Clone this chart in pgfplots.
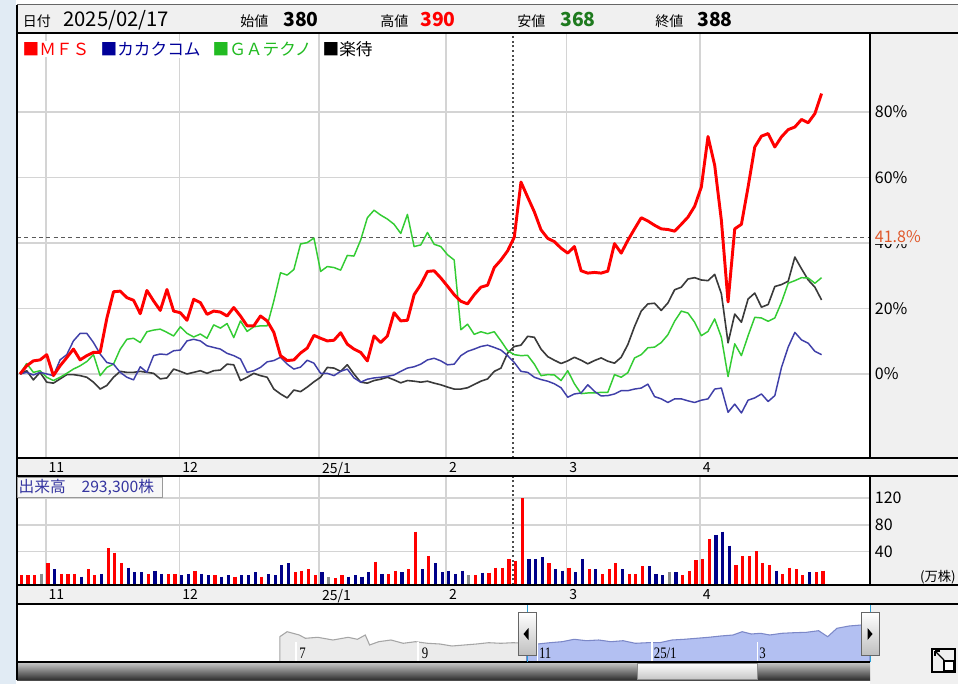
\documentclass[border=0pt]{standalone}
\usepackage{fontspec}
\setmainfont{Noto Sans CJK JP}
\newfontfamily\navfont{Liberation Serif}
\usepackage{graphicx}
\usepackage{pgfplots}
\usepackage{pgfplotstable}
\pgfplotsset{compat=1.18}

\definecolor{panel}{HTML}{F0F0F0}
\definecolor{leftblue}{HTML}{E1EBF4}
\definecolor{gridc}{HTML}{D4D4D4}
\definecolor{cmfs}{HTML}{FF0000}
\definecolor{ckak}{HTML}{3F3FA8}
\definecolor{cga}{HTML}{33CC33}
\definecolor{crak}{HTML}{3A3A3A}
\definecolor{vred}{HTML}{FF0000}
\definecolor{vblue}{HTML}{000088}
\definecolor{vgray}{HTML}{8C8C8C}
\definecolor{legblue}{HTML}{000099}
\definecolor{leggreen}{HTML}{22BB22}
\definecolor{lowgreen}{HTML}{1E7A1E}
\definecolor{orangelab}{HTML}{E0582A}
\definecolor{navgray}{HTML}{EBEBEB}
\definecolor{navgline}{HTML}{A5A5A5}
\definecolor{navblue}{HTML}{B3C0F2}
\definecolor{navbline}{HTML}{7C88C8}
\definecolor{volblue}{HTML}{3535A0}
\definecolor{tealc}{HTML}{2A9FD6}

\pgfplotstableread{
i mfs kak ga rak
0 0 0 0 0
1 2.5 0.5 3.2 1.0
2 4 -0.3 0.5 -1.8
3 4.3 0.5 1.0 0.5
4 5.9 0 -1.0 -2.5
5 -0.5 -0.5 -2.0 -2.8
6 2.5 4.3 -1.0 -1.5
7 5 5.9 0.2 -0.2
8 7.6 10.1 1.5 -0.2
9 4.3 12.4 2.5 -0.5
10 5.6 12.4 3.8 -1.0
11 6.6 9.6 5.9 -2.5
12 6.6 6.1 -0.5 -4.6
13 17 3.5 2.0 -3.5
14 25.1 3.0 3.0 -1.0
15 25.3 0.5 7.6 0.8
16 23.3 -1.0 10.6 0.5
17 22.5 -1.8 10.9 0.5
18 18.4 2.2 9.6 0.8
19 25.5 0.5 12.9 0.5
20 22.3 5.6 13.4 0.2
21 19.4 6.1 13.7 -1.5
22 25.8 5.9 12.7 -1.2
23 19.2 7.1 11.6 1.5
24 18.7 7.3 14.4 0.8
25 16.4 10.1 12.4 0
26 22.8 10.6 11.3 0.5
27 21.8 10.1 12.2 1.0
28 18.2 8.6 10.9 0.2
29 19.2 8.1 15.0 1.0
30 18.9 7.6 14.0 1.2
31 17.7 6.3 15.4 3.0
32 20.3 5.6 11.1 2.8
33 17.7 4.6 16.2 -2.0
34 14.7 0.5 13.0 -1.0
35 14.7 1.0 14.4 0.2
36 17.7 2.0 14.7 -0.5
37 16.2 3.7 14.7 -1.0
38 12.7 4.1 22.3 -4.6
39 5.6 5.1 30.9 -6.1
40 4.1 3.0 30.2 -7.3
41 4.3 1.5 31.9 -4.9
42 6.4 2.1 39.7 -5.4
43 7.9 4.2 40.1 -4.0
44 11.8 3.3 41.5 -2.4
45 10.9 0.2 31.3 -1.0
46 10.1 0.2 32.8 2.0
47 10.3 -0.5 32.5 1.8
48 12.6 0.8 31.7 0.8
49 9.1 1.5 36.2 2.8
50 7.6 -1.2 36.0 0
51 6.6 -2.5 40.9 -2.5
52 4.0 -1.6 47.7 -2.8
53 11.6 -1.2 50.0 -2.0
54 9.6 -1.0 48.5 -1.6
55 11.6 -0.7 47.3 -1.0
56 18.7 -0.3 45.7 -1.8
57 16.2 0.8 42.9 -2.7
58 16.4 1.8 48.7 -2.0
59 24.2 2.2 38.9 -2.2
60 27.3 3.0 39.4 -2.5
61 31.3 4.3 43.2 -2.2
62 31.5 4.8 39.6 -2.8
63 29.3 4.0 38.9 -3.3
64 26.8 2.8 36.4 -4.0
65 24.2 3.0 34.8 -4.6
66 22.2 5.6 13.5 -4.6
67 21.4 6.9 15.2 -4.2
68 24.2 7.6 12.1 -3.2
69 26.5 8.4 12.9 -2.2
70 27.1 8.8 12.3 -1.5
71 32.5 8.1 12.9 0.8
72 34.8 7.3 10.1 1.8
73 37.6 5.6 7.1 6.4
74 41.8 3.5 5.9 8.4
75 58.6 0.8 5.6 8.8
76 54 0.5 5.7 11.5
77 49.5 -1.0 3.0 11.2
78 44 -1.7 -0.5 7.6
79 41.4 -2.2 -0.2 5.3
80 40.4 -3.0 -0.3 4.2
81 38.4 -4.2 -2.0 3.2
82 36.9 -7.1 1.0 4.0
83 38.9 -6.1 -3.0 5.1
84 31.5 -5.8 -6.0 4.2
85 30.8 -3.3 -5.8 3.1
86 31 -5.3 -5.8 4.1
87 30.8 -6.7 -5.6 4.9
88 31.4 -6.6 -5.6 3.9
89 39.8 -6.1 -0.2 3.3
90 36.9 -5.1 -1.0 5.1
91 40.8 -5.1 0.4 9.0
92 44.3 -4.6 4.9 14.5
93 47.7 -4.3 5.9 19.2
94 46.7 -3.1 8.0 21.4
95 45.4 -6.9 8.2 21.6
96 44.3 -7.6 9.6 19.4
97 44.1 -8.7 12.0 21.7
98 43.6 -7.6 16.1 25.7
99 45.7 -7.6 19.2 26.5
100 47.9 -8.2 18.6 29.0
101 51.2 -8.7 15.8 29.4
102 57.1 -8.0 11.7 28.7
103 72.5 -7.6 13.0 28.5
104 63.7 -4.6 16.8 30.4
105 46.9 -4.3 11.2 24.5
106 22 -11.7 -0.8 9.5
107 44.3 -9.2 9.2 18.3
108 45.7 -11.9 5.6 15.8
109 57.1 -8.0 11.7 22.9
110 69.3 -7.3 17.3 24.7
111 72.6 -6.1 17.1 20.4
112 73.4 -8.4 16.1 21.2
113 69.3 -6.6 17.1 26.7
114 72.4 2.0 21.9 27.3
115 74.6 8.2 27.7 28.3
116 75.4 12.7 28.5 35.7
117 77.7 10.4 29.4 32.1
118 76.7 9.4 29.3 28.7
119 79.5 6.9 27.7 26.5
120 85.6 5.9 29.4 22.6
}\linedata

\pgfplotstableread{
i v
0 4.5
1 4.5
2 4.5
4 22.5
6 6.5
7 6.5
8 6.5
10 13.5
11 4.5
13 45
14 38.5
15 22.5
19 6.5
22 6.5
23 6.5
26 11.5
29 4.5
32 2.5
36 2.5
41 9
42 11.5
43 13.5
44 4.5
47 0.5
48 4.5
53 25
55 6.5
56 11.5
58 13.5
59 70
61 33.5
68 4.5
70 8.5
71 16
72 16
73 29.3
74 26.5
75 120
79 22.5
82 16
85 13.5
87 6.5
88 13.5
89 22.5
91 6.5
92 6.5
93 18
99 4.5
100 11.5
101 27
102 29
103 58.5
107 20
108 33.5
109 33.5
110 40.5
111 22.5
112 20
114 6.5
115 16
116 13.5
117 4.5
119 9
120 11.5
}\volred

\pgfplotstableread{
i v
5 13.5
9 2.5
12 6.5
16 16
17 9
18 9
20 11.5
21 6.5
24 4.5
25 6.5
27 6.5
28 4.5
30 2.5
31 4.5
33 4.5
34 4.5
35 9
37 6.5
38 4.5
39 20
40 22.5
45 9
49 2.5
50 4.5
51 2.5
52 9
54 6.5
57 9
60 13.5
62 22.5
63 9
64 11.5
65 6.5
66 11.5
69 8.5
76 29
77 29
78 31.5
80 13.5
81 11.5
83 9
84 29
86 13.5
90 13.5
94 18
95 6.5
96 4.5
98 9
104 65
105 70
106 49
113 11.5
118 9
}\volblue

\pgfplotstableread{
i v
3 7
46 2
67 4.5
97 9
}\volgray

\pgfplotstableread{
x h
279.8 0
279.8 25.3
287.1 30.3
299.3 27
305.4 23.7
317.7 24.7
332.9 22
348.2 24.7
357.4 22.7
365.3 27
369.6 17
378.7 20.3
391 22
403.2 18.7
415.4 20.3
427.6 18.7
439.8 18
452 16
464.3 17
476.5 18
488.7 19.3
500.9 18.7
513.1 19.3
526.6 18.7
}\navleft

\pgfplotstableread{
x h
526.6 18.7
537.6 18
549.8 19.3
562 20.3
574.2 22.7
586.4 21.3
598.7 22
610.9 20.3
623.1 21.3
635.3 18.7
647.5 19.3
659.7 19.3
672 22
684.2 22.7
696.4 23.7
708.6 24.7
720.8 26
733 27
742.2 30.3
751.4 28
760.5 28.7
769.7 27
781.9 28.7
794.1 29.3
806.4 29.7
818.6 31.3
827.7 25.3
836.9 33.7
849.1 36
861.3 37
870 37.7
}\navright

\pgfplotsset{
  panel axis/.style={
    scale only axis, width=639.75pt, xmin=-0.45, xmax=127.25,
    anchor=south west,
    axis line style={draw=none}, major tick length=0pt,
    grid=major, grid style={draw=gridc, line width=1.2pt},
    xtick={3.85,23.85,44.8,63.8,81.8,101.8},
    xticklabels={11,12,25/1,2,3,4},
    xticklabel style={anchor=north west, font=\fontsize{10.5}{12}\selectfont, inner sep=0pt, xshift=2pt, yshift=-3pt},
    yticklabel pos=right,
    yticklabel style={anchor=west, font=\fontsize{12}{14}\selectfont, inner sep=0pt, xshift=3.5pt},
    /pgf/number format/assume math mode=true,
  },
  volbars/.style={draw=none, no markers, forget plot,
    error bars/.cd, y dir=minus, y explicit, error mark=none,
    error bar style={draw=#1, line width=2.4pt, solid, xshift=1pt}},
}

\begin{document}
\begin{tikzpicture}
\path[use as bounding box] (0,0) rectangle (718.5pt,-513pt);
% ---------- backgrounds (pixel coordinates) ----------
\begin{scope}[x=0.75pt,y=-0.75pt]
  \fill[white] (0,0) rectangle (958,684);
  \fill[leftblue] (0,0) rectangle (16,684);
  \fill[panel] (17,5) rectangle (958,33);
  \fill[panel] (870,33) rectangle (958,684);
  \fill[panel] (17,458) rectangle (958,476);
  \fill[panel] (17,585) rectangle (958,604);
  \shade[top color=black!20, bottom color=black!82] (17,662) rectangle (870,680);
  \shade[top color=white, bottom color=black!22, draw=black!45, line width=0.5pt] (637,663) rectangle (757,679);
\end{scope}

% ---------- main line chart ----------
\begin{axis}[panel axis, at={(12.75pt,-343.5pt)}, height=318.75pt,
  ymin=-25.65, ymax=104.1, ytick={0,20,40,60,80},
  yticklabels={0\%,20\%,40\%,60\%,80\%}]
  \draw[black!65, line width=0.6pt, dash pattern=on 3pt off 2.5pt] (axis cs:-0.45,41.8) -- (axis cs:127.25,41.8);
  \draw[black!70, line width=1pt, dash pattern=on 1.5pt off 2pt] (axis cs:73.8,-25.65) -- (axis cs:73.8,104.1);
  \addplot[crak, line width=1.2pt, line join=round] table[x=i, y=rak] {\linedata};
  \addplot[cga, line width=1.1pt, line join=round] table[x=i, y=ga] {\linedata};
  \addplot[ckak, line width=1.1pt, line join=round] table[x=i, y=kak] {\linedata};
  \addplot[cmfs, line width=2.2pt, line join=round] table[x=i, y=mfs] {\linedata};
\end{axis}

% ---------- volume ----------
\begin{axis}[panel axis, at={(12.75pt,-438.75pt)}, height=81.75pt,
  ymin=-10, ymax=153.4, ytick={40,80,120}, yticklabels={40,80,120}]
  \draw[black!70, line width=1pt, dash pattern=on 1.5pt off 2pt] (axis cs:73.8,-10) -- (axis cs:73.8,153.4);
  \addplot[volbars=vred] table[x=i, y=v, y error expr=\thisrow{v}+10] {\volred};
  \addplot[volbars=vblue] table[x=i, y=v, y error expr=\thisrow{v}+10] {\volblue};
  \addplot[volbars=vgray] table[x=i, y=v, y error expr=\thisrow{v}+10] {\volgray};
\end{axis}

% ---------- navigator ----------
\begin{axis}[scale only axis, at={(12.75pt,-496.5pt)}, anchor=south west,
  width=639.75pt, height=42.75pt, xmin=17, xmax=870, ymin=0, ymax=57, hide axis]
  \addplot[fill=navgray, draw=navgline, line width=0.8pt] table[x=x, y=h] {\navleft} \closedcycle;
  \addplot[fill=navblue, draw=navbline, line width=0.8pt] table[x=x, y=h] {\navright} \closedcycle;
\end{axis}

% ---------- frame, labels, decorations ----------
\begin{scope}[x=0.75pt,y=-0.75pt]
  % nav month separators
  \foreach \xx in {296,418,537.6,652,757.5} \draw[white, line width=0.8pt] (\xx,642) -- (\xx,662);
  % lines
  \draw[black!60, line width=0.75pt] (17,5) -- (958,5);
  \draw[black, line width=1.1pt] (17,33) -- (958,33);
  \draw[black, line width=1.5pt] (870,33) -- (870,458);
  \draw[black, line width=1.5pt] (870,476) -- (870,585);
  \draw[black, line width=1.1pt] (17,458) -- (958,458);
  \draw[black, line width=1.1pt] (17,476) -- (958,476);
  \draw[black, line width=1.1pt] (17,585) -- (958,585);
  \draw[black, line width=2pt] (17,604) -- (958,604);
  \draw[black, line width=1.1pt] (17,662) -- (870,662);
  \draw[black!70, line width=0.75pt] (17,680) -- (870,680);
  \draw[black, line width=1.5pt] (17,5) -- (17,680);
  \draw[tealc, line width=0.6pt] (527,605) -- (527,662);
  \draw[tealc, line width=0.6pt] (870.5,605) -- (870.5,662);

  % header
  \node[anchor=base west, inner sep=0pt, font=\fontsize{10.5}{12}\selectfont] at (22.5,27) {日付};
  \node[anchor=base west, inner sep=0pt, font=\fontsize{15.2}{17}\selectfont] at (63,27) {2025/02/17};
  \node[anchor=base west, inner sep=0pt, font=\fontsize{10.5}{12}\selectfont] at (240,27) {始値};
  \node[anchor=base west, inner sep=0pt, font=\fontsize{14.5}{16}\selectfont\bfseries] at (283,27) {380};
  \node[anchor=base west, inner sep=0pt, font=\fontsize{10.5}{12}\selectfont] at (380,27) {高値};
  \node[anchor=base west, inner sep=0pt, font=\fontsize{14.5}{16}\selectfont\bfseries, text=cmfs] at (420,27) {390};
  \node[anchor=base west, inner sep=0pt, font=\fontsize{10.5}{12}\selectfont] at (517,27) {安値};
  \node[anchor=base west, inner sep=0pt, font=\fontsize{14.5}{16}\selectfont\bfseries, text=lowgreen] at (560,27) {368};
  \node[anchor=base west, inner sep=0pt, font=\fontsize{10.5}{12}\selectfont] at (655,27) {終値};
  \node[anchor=base west, inner sep=0pt, font=\fontsize{14.5}{16}\selectfont\bfseries] at (697,27) {388};

  % legend
  \node[anchor=west, fill=white, inner sep=1pt, font=\fontsize{12.5}{14}\selectfont, text=cmfs] at (21,49.5) {■ＭＦＳ};
  \node[anchor=west, fill=white, inner sep=1pt, font=\fontsize{12.5}{14}\selectfont, text=legblue] at (99,49.5) {■カカクコム};
  \node[anchor=west, fill=white, inner sep=1pt, font=\fontsize{12.5}{14}\selectfont, text=leggreen] at (211,49.5) {■ＧＡテクノ};
  \node[anchor=west, fill=white, inner sep=1pt, font=\fontsize{12.5}{14}\selectfont, text=black] at (321,49.5) {■楽待};

  % 41.8% label (drawn over the 40% tick label, as in the reference)
  \node[anchor=west, fill=panel, inner sep=0.5pt, font=\fontsize{12}{14}\selectfont, text=orangelab] at (874,237) {41.8\%};

  % volume label
  \node[anchor=north west, draw=black!40, fill=black!3, inner sep=0pt, minimum height=15pt, text width=109pt, align=left, font=\fontsize{11.8}{13}\selectfont, text=volblue] at (17,477) {\hspace{1pt}出来高　293,300株};
  \node[anchor=east, inner sep=0pt, font=\fontsize{10}{12}\selectfont] at (956,577) {(万株)};

  % navigator labels
  \foreach \xx/\lab in {299/7,421.5/9,538.8/11,653.6/25\slash 1,759/3}
    \node[anchor=west, inner sep=0pt, font=\navfont\fontsize{12}{14}\selectfont] at (\xx,653) {\scalebox{0.8}[1]{\lab}};

  % navigator handles
  \shade[top color=white, bottom color=black!25, draw=black!60, line width=0.6pt] (518,612.5) rectangle (536,655);
  \fill[black] (528.5,628) -- (523.5,634) -- (528.5,640) -- cycle;
  \shade[top color=white, bottom color=black!25, draw=black!60, line width=0.6pt] (861,612.5) rectangle (879,655);
  \fill[black] (867.5,628) -- (872.5,634) -- (867.5,640) -- cycle;

  % resize icon
  \draw[black, line width=0.9pt] (932,649) rectangle (955,672);
  \draw[black, line width=0.9pt] (944,660) -- (935,651);
  \draw[black, line width=0.9pt] (935,651) -- (935,656);
  \draw[black, line width=0.9pt] (935,651) -- (940,651);
  \draw[black, line width=0.9pt, fill=white] (944,661) rectangle (954,671);
\end{scope}
\end{tikzpicture}
\end{document}
